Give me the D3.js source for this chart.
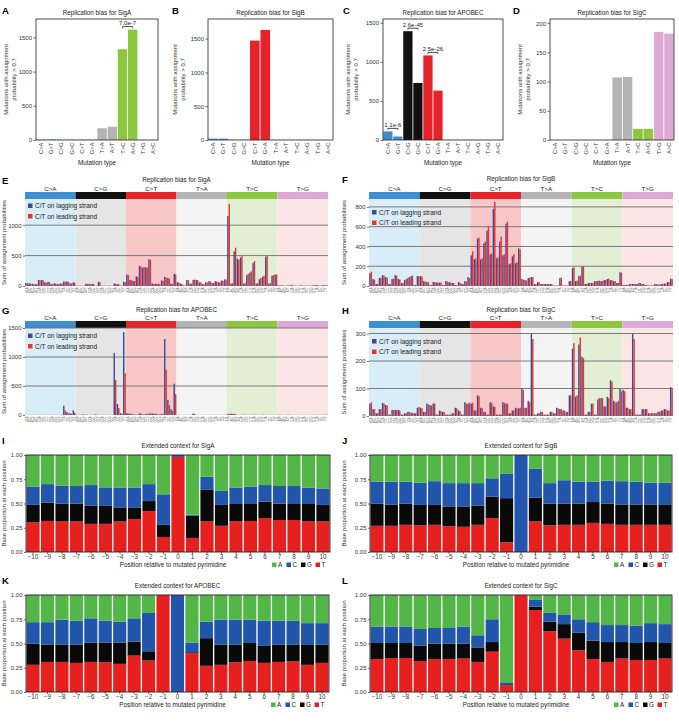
<!DOCTYPE html>
<html>
<head>
<meta charset="utf-8">
<script src="https://cdn.jsdelivr.net/npm/d3@7"></script>
<style>
  body { margin: 0; background: #fff; }
  text { font-family: "Liberation Sans", Arial, sans-serif; }
</style>
</head>
<body>
<svg width="679" height="721"></svg>
<script>
// ---- data: replication bias, 12 mutation types (A-D)
const mutTypes = ["C>A", "G>T", "C>G", "G>C", "C>T", "G>A", "T>A", "A>T", "T>C", "A>G", "T>G", "A>C"];
const biasSigA = [5, 5, 2, 2, 3, 3, 172, 195, 1328, 1615, 4, 3];
const biasSigB = [20, 20, 2, 2, 1470, 1628, 3, 3, 2, 2, 1, 1];
const biasAPOBEC = [110, 45, 1392, 730, 1082, 632, 2, 2, 2, 2, 1, 1];
const biasSigC = [0, 0, 0, 0, 0, 0, 107, 108, 19, 19, 185, 182];

// ---- data: 96 trinucleotide channels (E-H), rows of 16 per class
const classes = ["C>A", "C>G", "C>T", "T>A", "T>C", "T>G"];
const bases = ["A", "C", "G", "T"];

const sigALag = [
  50, 45, 35, 30, 100, 100, 60, 70, 35, 45, 30, 40, 75, 75, 45, 60,
  5, 5, 5, 35, 35, 35, 5, 70, 5, 5, 5, 5, 40, 30, 5, 70,
  190, 100, 85, 160, 330, 300, 310, 440, 40, 35, 35, 90, 150, 130, 40, 200,
  60, 40, 10, 100, 40, 100, 100, 60, 30, 60, 80, 50, 80, 60, 90, 110,
  1150, 40, 570, 450, 470, 40, 180, 220, 380, 40, 110, 150, 480, 40, 170, 190,
  10, 10, 5, 10, 15, 5, 5, 10, 5, 5, 5, 10, 15, 5, 15, 10];
const sigALead = [
  45, 40, 30, 30, 95, 95, 55, 65, 30, 40, 35, 40, 70, 70, 40, 55,
  5, 5, 5, 35, 30, 35, 5, 65, 5, 5, 5, 5, 40, 30, 5, 65,
  180, 95, 80, 150, 320, 310, 300, 430, 35, 35, 30, 85, 140, 120, 35, 190,
  55, 35, 10, 95, 40, 105, 95, 60, 30, 60, 75, 50, 75, 60, 85, 105,
  1350, 45, 630, 430, 490, 45, 200, 240, 410, 45, 130, 170, 500, 45, 180, 190,
  10, 10, 5, 10, 15, 5, 5, 10, 5, 5, 5, 10, 15, 5, 15, 10];

const sigBLag = [
  130, 70, 20, 80, 110, 90, 20, 70, 110, 70, 30, 60, 80, 100, 10, 100,
  100, 50, 40, 10, 40, 35, 35, 10, 50, 40, 30, 10, 40, 20, 50, 90,
  310, 270, 480, 270, 430, 560, 320, 780, 280, 450, 310, 630, 220, 300, 230, 380,
  70, 60, 80, 90, 20, 40, 20, 20, 20, 20, 5, 5, 80, 5, 5, 50,
  180, 50, 100, 195, 20, 30, 30, 50, 50, 50, 60, 70, 60, 50, 30, 140,
  10, 10, 20, 20, 20, 30, 20, 10, 5, 5, 20, 15, 20, 25, 40, 75];
const sigBLead = [
  145, 65, 20, 85, 105, 85, 20, 75, 105, 65, 30, 70, 90, 105, 10, 100,
  95, 45, 40, 10, 40, 35, 35, 10, 45, 35, 30, 10, 35, 20, 45, 80,
  350, 280, 490, 280, 450, 600, 330, 850, 290, 500, 320, 650, 230, 320, 240, 370,
  65, 55, 85, 90, 20, 40, 20, 20, 20, 20, 5, 5, 85, 5, 5, 50,
  190, 55, 105, 200, 20, 30, 30, 50, 55, 50, 60, 75, 60, 50, 30, 135,
  10, 10, 20, 20, 20, 30, 20, 10, 5, 5, 20, 15, 20, 25, 40, 70];

const apobecLag = [
  2, 2, 2, 2, 2, 2, 2, 2, 2, 2, 2, 2, 160, 50, 30, 80,
  5, 2, 10, 5, 2, 2, 10, 2, 2, 2, 2, 2, 1070, 190, 30, 1430,
  30, 25, 10, 5, 30, 10, 20, 25, 25, 20, 10, 20, 1310, 260, 100, 540,
  2, 2, 2, 2, 2, 25, 2, 2, 2, 2, 2, 2, 2, 2, 2, 2,
  20, 25, 20, 2, 2, 5, 2, 2, 5, 2, 2, 5, 2, 2, 2, 2,
  5, 2, 2, 5, 2, 2, 2, 2, 2, 2, 2, 2, 2, 2, 2, 5];
const apobecLead = [
  2, 2, 2, 2, 2, 2, 2, 2, 2, 2, 2, 2, 80, 30, 20, 40,
  3, 2, 8, 3, 2, 2, 8, 2, 2, 2, 2, 2, 600, 120, 20, 720,
  25, 20, 8, 5, 25, 10, 15, 25, 25, 20, 10, 15, 780, 170, 70, 360,
  2, 2, 2, 2, 2, 20, 2, 2, 2, 2, 2, 2, 2, 2, 2, 2,
  15, 20, 15, 2, 2, 5, 2, 2, 5, 2, 2, 5, 2, 2, 2, 2,
  5, 2, 2, 5, 2, 2, 2, 2, 2, 2, 2, 2, 2, 2, 2, 5];

const sigCLag = [
  45, 25, 10, 25, 48, 40, 5, 22, 22, 22, 5, 10, 15, 12, 10, 30,
  30, 15, 45, 40, 45, 5, 20, 15, 5, 5, 10, 30, 20, 5, 50, 45,
  45, 20, 75, 30, 15, 5, 50, 35, 5, 5, 50, 45, 10, 20, 30, 28,
  100, 30, 55, 300, 5, 10, 15, 5, 5, 15, 10, 30, 25, 20, 15, 75,
  245, 70, 260, 215, 5, 15, 45, 5, 60, 65, 35, 70, 130, 55, 50, 100,
  95, 30, 25, 300, 5, 5, 25, 25, 10, 10, 10, 15, 20, 25, 20, 105];
const sigCLead = [
  50, 25, 10, 25, 45, 38, 5, 22, 22, 20, 5, 10, 15, 12, 10, 33,
  28, 15, 42, 38, 45, 5, 18, 15, 5, 5, 10, 28, 18, 5, 45, 48,
  48, 20, 72, 28, 15, 5, 48, 33, 5, 5, 48, 45, 10, 20, 28, 30,
  95, 30, 50, 280, 5, 10, 15, 5, 5, 15, 10, 28, 25, 20, 15, 75,
  265, 75, 285, 210, 5, 15, 45, 5, 65, 65, 35, 65, 125, 50, 55, 90,
  90, 30, 25, 280, 5, 5, 25, 25, 10, 10, 10, 15, 20, 25, 20, 100];

// ---- data: extended context (I-L), base proportions per position
const positions = [-10, -9, -8, -7, -6, -5, -4, -3, -2, -1, 0, 1, 2, 3, 4, 5, 6, 7, 8, 9, 10];

const sigA_T = [.305, .32, .315, .315, .29, .29, .315, .34, .42, .155, .98, .145, .315, .27, .315, .32, .35, .33, .33, .315, .315];
const sigA_G = [.181, .19, .185, .185, .19, .185, .145, .12, .105, .125, 0, .23, .325, .215, .18, .175, .17, .17, .165, .18, .17];
const sigA_C = [.189, .19, .185, .18, .21, .185, .205, .205, .175, .315, .02, .01, .135, .145, .17, .18, .17, .18, .185, .17, .17];
const sigA_A = [.325, .30, .315, .32, .31, .34, .335, .335, .30, .405, 0, .615, .225, .37, .335, .325, .31, .32, .32, .335, .345];

const sigB_T = [.27, .27, .28, .275, .28, .265, .26, .28, .35, .10, 0, .315, .275, .28, .28, .30, .29, .28, .28, .28, .28];
const sigB_G = [.227, .22, .22, .21, .205, .205, .21, .20, .22, .455, 0, .245, .225, .22, .22, .215, .21, .21, .21, .21, .205];
const sigB_C = [.229, .235, .225, .23, .245, .24, .24, .23, .19, .25, 1, .30, .21, .24, .225, .21, .235, .24, .235, .225, .23];
const sigB_A = [.274, .275, .275, .285, .27, .29, .29, .29, .24, .195, 0, .14, .29, .26, .275, .275, .265, .27, .275, .285, .285];

const apobec_T = [.28, .31, .31, .30, .31, .305, .29, .375, .325, 1, 0, .40, .27, .28, .305, .32, .30, .31, .315, .28, .30];
const apobec_G = [.217, .18, .18, .19, .20, .205, .22, .145, .095, 0, 0, .01, .285, .21, .185, .185, .175, .18, .175, .205, .19];
const apobec_C = [.223, .23, .255, .245, .25, .225, .215, .24, .395, 0, 1, .10, .17, .255, .255, .24, .26, .245, .245, .225, .22];
const apobec_A = [.28, .28, .255, .265, .24, .265, .275, .24, .185, 0, 0, .49, .275, .255, .255, .255, .265, .265, .265, .29, .29];

const sigC_T = [.34, .35, .35, .32, .34, .34, .345, .31, .415, .07, 1, .845, .625, .55, .43, .34, .31, .345, .33, .33, .345];
const sigC_G = [.165, .155, .155, .16, .16, .16, .155, .15, .10, .01, 0, .035, .10, .15, .18, .19, .205, .17, .175, .185, .16];
const sigC_C = [.17, .17, .17, .17, .16, .16, .175, .125, .235, .02, 0, .075, .095, .10, .14, .19, .175, .175, .18, .195, .195];
const sigC_A = [.325, .325, .325, .35, .34, .34, .325, .415, .25, .90, 0, .045, .18, .20, .25, .28, .31, .31, .315, .29, .30];

// ---- colours
const classColor = { "C>A": "#3d8fd1", "C>G": "#111111", "C>T": "#e4232a", "T>A": "#b4b4b4", "T>C": "#8dc63f", "T>G": "#dcaad4" };
const classBg = { "C>A": "#d9edf8", "C>G": "#e5e5e5", "C>T": "#f8c8c8", "T>A": "#f4f4f4", "T>C": "#e3efd5", "T>G": "#fbe5e5" };
const lagColor = "#3a4ca0";
const leadColor = "#e8342a";
const baseColor = { A: "#52b747", C: "#2256ad", G: "#0a0a0a", T: "#e5201f" };

const svg = d3.select("svg");
const plainNum = d3.format("d");
const minusNum = d => d < 0 ? "\u2212" + (-d) : String(d);

function letter(x, y, t) {
  svg.append("text").attr("x", x).attr("y", y).attr("font-size", 9.5)
    .attr("font-weight", "bold").text(t);
}

function styleAxis(a, size) {
  a.select(".domain").remove();
  a.selectAll("line").attr("stroke", "#333").attr("stroke-width", 0.7);
  a.selectAll("text").attr("font-size", size).attr("fill", "#333")
    .attr("font-family", "Liberation Sans, Arial, sans-serif");
}

// ---- top row: replication bias bar charts
function drawBias(o) {
  const g = svg.append("g");
  const top = 19, bottom = 140;
  const x = d3.scaleBand().domain(mutTypes).range([o.x0, o.x1]).paddingInner(0.08).paddingOuter(0.02);
  const y = d3.scaleLinear().domain([0, o.yMax]).range([bottom, top]);

  g.selectAll(".bar").data(o.values).enter().append("rect")
    .attr("x", (d, i) => x(mutTypes[i]))
    .attr("width", x.bandwidth())
    .attr("y", d => y(d))
    .attr("height", d => y(0) - y(d))
    .attr("fill", (d, i) => classColor[classes[Math.floor(i / 2)]]);

  g.append("rect").attr("x", o.x0).attr("y", top)
    .attr("width", o.x1 - o.x0).attr("height", bottom - top)
    .attr("fill", "none").attr("stroke", "#222").attr("stroke-width", 0.8);

  const ya = g.append("g").attr("transform", "translate(" + o.x0 + ",0)")
    .call(d3.axisLeft(y).tickValues(o.ticks).tickFormat(plainNum).tickSize(2.5).tickPadding(1.5));
  styleAxis(ya, 6);

  const xa = g.append("g").attr("transform", "translate(0," + bottom + ")")
    .call(d3.axisBottom(x).tickSize(0));
  styleAxis(xa, 5.8);
  xa.selectAll("text").attr("transform", "rotate(-90)")
    .attr("x", -2.5).attr("y", 0).attr("dy", "0.35em").attr("text-anchor", "end");

  const cx = (o.x0 + o.x1) / 2;
  g.append("text").attr("x", cx).attr("y", 14.5).attr("text-anchor", "middle")
    .attr("font-size", 6.3).attr("fill", "#222").text(o.title);
  g.append("text").attr("x", cx).attr("y", 165).attr("text-anchor", "middle")
    .attr("font-size", 6.3).attr("fill", "#222").text("Mutation type");

  // two-line y title
  ["Mutations with assignment", "probability > 0.7"].forEach((t, k) => {
    g.append("text")
      .attr("transform", "translate(" + (o.yt + k * 7.6) + "," + ((top + bottom) / 2) + ") rotate(-90)")
      .attr("text-anchor", "middle").attr("font-size", 6).attr("fill", "#333").text(t);
  });

  // significance brackets
  (o.notes || []).forEach(n => {
    const xa0 = x(mutTypes[n.i]) + x.bandwidth() / 2;
    const xa1 = x(mutTypes[n.i + 1]) + x.bandwidth() / 2;
    const yb = y(Math.max(o.values[n.i], o.values[n.i + 1])) - 3;
    g.append("path")
      .attr("d", "M" + xa0 + "," + (yb + 1.5) + "V" + yb + "H" + xa1 + "V" + (yb + 1.5))
      .attr("fill", "none").attr("stroke", "#222").attr("stroke-width", 0.8);
    g.append("text").attr("x", (xa0 + xa1) / 2).attr("y", yb - 1.5)
      .attr("text-anchor", "middle").attr("font-size", 6).attr("fill", "#222").text(n.label);
  });
  letter(o.lx, 14, o.letter);
}

// ---- middle rows: 96-channel strand bias
const contextLabels = [];
classes.forEach(c => bases.forEach(b5 => bases.forEach(b3 => contextLabels.push(b5 + c[0] + b3))));

function draw96(o) {
  const g = svg.append("g");
  const x = d3.scaleBand().domain(d3.range(96)).range([o.x0, o.x1]).paddingInner(0.1).paddingOuter(0.06);
  const sub = d3.scaleBand().domain(["lag", "lead"]).range([0, x.bandwidth()]);
  const cls = d3.scaleBand().domain(classes).range([o.x0, o.x1]);
  const y = d3.scaleLinear().domain([0, o.yMax]).range([o.yBottom, o.yTop]);

  g.selectAll(".bg").data(classes).enter().append("rect")
    .attr("x", d => cls(d)).attr("y", o.yTop)
    .attr("width", cls.bandwidth()).attr("height", o.yBottom - o.yTop)
    .attr("fill", d => classBg[d]);
  g.selectAll(".strip").data(classes).enter().append("rect")
    .attr("x", d => cls(d)).attr("y", o.yTop - 7)
    .attr("width", cls.bandwidth()).attr("height", 7)
    .attr("fill", d => classColor[d]);
  g.selectAll(".clab").data(classes).enter().append("text")
    .attr("x", d => cls(d) + cls.bandwidth() / 2).attr("y", o.yTop - 8.5)
    .attr("text-anchor", "middle").attr("font-size", 6.2).attr("fill", "#222")
    .text(d => d);

  g.selectAll(".grid").data(o.ticks.filter(t => t > 0)).enter().append("line")
    .attr("x1", o.x0).attr("x2", o.x1)
    .attr("y1", d => y(d)).attr("y2", d => y(d))
    .attr("stroke", "#6e6e6e").attr("stroke-width", 0.9);

  [["lag", o.lag, lagColor], ["lead", o.lead, leadColor]].forEach(([k, vals, col]) => {
    g.selectAll(".b" + k).data(vals).enter().append("rect")
      .attr("x", (d, i) => x(i) + sub(k))
      .attr("width", sub.bandwidth())
      .attr("y", d => y(d))
      .attr("height", d => y(0) - y(d))
      .attr("fill", col);
  });

  const ya = g.append("g").attr("transform", "translate(" + o.x0 + ",0)")
    .call(d3.axisLeft(y).tickValues(o.ticks).tickFormat(plainNum).tickSize(2).tickPadding(1.5));
  styleAxis(ya, 6);

  const xa = g.append("g").attr("transform", "translate(0," + o.yBottom + ")")
    .call(d3.axisBottom(x).tickSize(0).tickFormat(i => contextLabels[i]));
  styleAxis(xa, 2.6);
  xa.selectAll("text").attr("transform", "rotate(-90)")
    .attr("x", -1.5).attr("y", 0).attr("dy", "0.35em").attr("text-anchor", "end").attr("fill", "#666");

  // legend
  [["C/T on lagging strand", lagColor], ["C/T on leading strand", leadColor]].forEach(([t, c], k) => {
    const ly = o.legendY + k * 10.5;
    g.append("rect").attr("x", o.x0 + 3).attr("y", ly - 2.5).attr("width", 4.5).attr("height", 4.5).attr("fill", c);
    g.append("text").attr("x", o.x0 + 10).attr("y", ly + 2.2).attr("font-size", 6.5).attr("fill", "#222").text(t);
  });

  g.append("text").attr("x", (o.x0 + o.x1) / 2).attr("y", o.titleY)
    .attr("text-anchor", "middle").attr("font-size", 6.3).attr("fill", "#222").text(o.title);
  g.append("text")
    .attr("transform", "translate(" + o.yt + "," + ((o.yTop + o.yBottom) / 2) + ") rotate(-90)")
    .attr("text-anchor", "middle").attr("font-size", 6).attr("fill", "#333")
    .text("Sum of assignment probabilities");
  letter(o.lx, o.titleY + 2, o.letter);
}

// ---- bottom rows: extended sequence context
function drawContext(o) {
  const g = svg.append("g");
  const x = d3.scaleBand().domain(positions).range([o.x0, o.x1]).paddingInner(0.09).paddingOuter(0.03);
  const y = d3.scaleLinear().domain([0, 1]).range([o.yBottom, o.yTop]);
  const rows = positions.map((p, i) => ({ pos: p, T: o.T[i], G: o.G[i], C: o.C[i], A: o.A[i] }));
  const series = d3.stack().keys(["T", "G", "C", "A"])(rows);

  g.selectAll(".layer").data(series).enter().append("g")
    .attr("fill", d => baseColor[d.key])
    .selectAll("rect").data(d => d).enter().append("rect")
    .attr("x", d => x(d.data.pos))
    .attr("width", x.bandwidth())
    .attr("y", d => y(Math.min(1, d[1])))
    .attr("height", d => Math.max(0, y(d[0]) - y(Math.min(1, d[1]))));

  g.append("rect").attr("x", o.x0).attr("y", o.yTop)
    .attr("width", o.x1 - o.x0).attr("height", o.yBottom - o.yTop)
    .attr("fill", "none").attr("stroke", "#222").attr("stroke-width", 0.9);

  const ya = g.append("g").attr("transform", "translate(" + o.x0 + ",0)")
    .call(d3.axisLeft(y).tickValues([0, 0.25, 0.5, 0.75, 1]).tickFormat(d3.format(".2f")).tickSize(2).tickPadding(1.5));
  styleAxis(ya, 6);
  const xa = g.append("g").attr("transform", "translate(0," + o.yBottom + ")")
    .call(d3.axisBottom(x).tickFormat(minusNum).tickSize(2).tickPadding(1));
  styleAxis(xa, 6.3);

  g.append("text").attr("x", (o.x0 + o.x1) / 2 - 5).attr("y", o.yBottom + 15)
    .attr("text-anchor", "middle").attr("font-size", 6.3).attr("fill", "#222")
    .text("Position relative to mutated pyrimidine");
  g.append("text").attr("x", (o.x0 + o.x1) / 2).attr("y", o.yTop - 7)
    .attr("text-anchor", "middle").attr("font-size", 6.3).attr("fill", "#222").text(o.title);
  g.append("text")
    .attr("transform", "translate(" + o.yt + "," + ((o.yTop + o.yBottom) / 2) + ") rotate(-90)")
    .attr("text-anchor", "middle").attr("font-size", 6).attr("fill", "#333")
    .text("Base proportion at each position");

  // legend
  bases.forEach((b, k) => {
    const lx = o.x1 - 58 + k * 14.5;
    g.append("rect").attr("x", lx).attr("y", o.yBottom + 10.5).attr("width", 4.5).attr("height", 4.5).attr("fill", baseColor[b]);
    g.append("text").attr("x", lx + 6).attr("y", o.yBottom + 15).attr("font-size", 6.3).attr("fill", "#222").text(b);
  });
  letter(o.lx, o.yTop - 11, o.letter);
}

drawBias({ x0: 36, x1: 158, yMax: 1770, ticks: [0, 500, 1000, 1500], values: biasSigA,
  title: "Replication bias for SigA", yt: 8, lx: 2, letter: "A",
  notes: [{ i: 8, label: "7.0e-7" }] });
drawBias({ x0: 208, x1: 333, yMax: 1790, ticks: [0, 500, 1000, 1500], values: biasSigB,
  title: "Replication bias for SigB", yt: 177, lx: 172, letter: "B" });
drawBias({ x0: 383, x1: 503, yMax: 1548, ticks: [0, 500, 1000, 1500], values: biasAPOBEC,
  title: "Replication bias for APOBEC", yt: 350, lx: 343, letter: "C",
  notes: [{ i: 0, label: "1.1e-6" }, { i: 2, label: "2.6e-45" }, { i: 4, label: "2.5e-26" }] });
drawBias({ x0: 550, x1: 674, yMax: 207, ticks: [0, 50, 100, 150, 200], values: biasSigC,
  title: "Replication bias for SigC", yt: 522, lx: 513, letter: "D" });

draw96({ x0: 25, x1: 328, yTop: 199, yBottom: 286, yMax: 1430, ticks: [0, 500, 1000],
  lag: sigALag, lead: sigALead, legendY: 206, titleY: 182, title: "Replication bias for SigA",
  yt: 6, lx: 2, letter: "E" });
draw96({ x0: 369, x1: 673, yTop: 199, yBottom: 286, yMax: 880, ticks: [0, 200, 400, 600, 800],
  lag: sigBLag, lead: sigBLead, legendY: 212.5, titleY: 181, title: "Replication bias for SigB",
  yt: 346, lx: 342, letter: "F" });
draw96({ x0: 25, x1: 328, yTop: 328, yBottom: 415, yMax: 1500, ticks: [0, 500, 1000, 1500],
  lag: apobecLag, lead: apobecLead, legendY: 336, titleY: 312, title: "Replication bias for APOBEC",
  yt: 6, lx: 2, letter: "G" });
draw96({ x0: 369, x1: 673, yTop: 328, yBottom: 416, yMax: 320, ticks: [0, 100, 200, 300],
  lag: sigCLag, lead: sigCLead, legendY: 341.5, titleY: 312, title: "Replication bias for SigC",
  yt: 346, lx: 342, letter: "H" });

drawContext({ x0: 26, x1: 330, yTop: 455, yBottom: 552, T: sigA_T, G: sigA_G, C: sigA_C, A: sigA_A,
  title: "Extended context for SigA", yt: 6, lx: 2, letter: "I" });
drawContext({ x0: 370, x1: 672, yTop: 455, yBottom: 552, T: sigB_T, G: sigB_G, C: sigB_C, A: sigB_A,
  title: "Extended context for SigB", yt: 346, lx: 342, letter: "J" });
drawContext({ x0: 26, x1: 329, yTop: 595, yBottom: 692, T: apobec_T, G: apobec_G, C: apobec_C, A: apobec_A,
  title: "Extended context for APOBEC", yt: 6, lx: 2, letter: "K" });
drawContext({ x0: 370, x1: 672, yTop: 595, yBottom: 692, T: sigC_T, G: sigC_G, C: sigC_C, A: sigC_A,
  title: "Extended context for SigC", yt: 346, lx: 342, letter: "L" });
</script>
</body>
</html>
